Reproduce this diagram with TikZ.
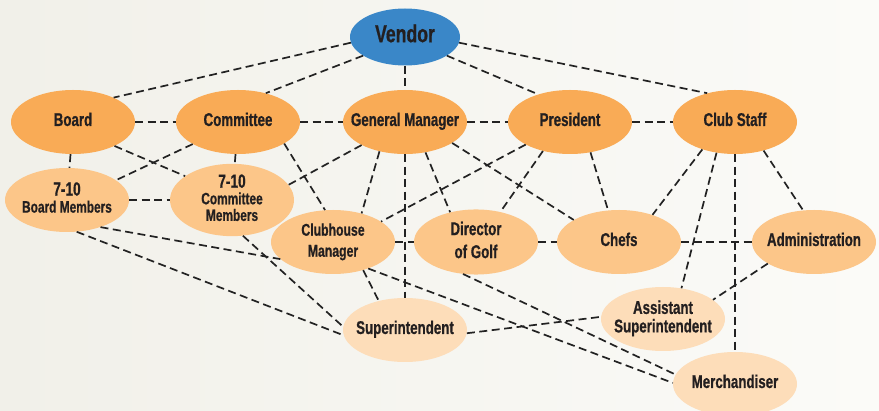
\documentclass[tikz,border=0pt]{standalone}
\usepackage{fontspec}
\usetikzlibrary{shapes.geometric}
\newfontfamily\ovalfont{Liberation Sans}[FakeStretch=0.72, BoldFeatures={FakeBold=0.7}]
\newcommand{\ovalsize}[2]{\ovalfont\bfseries\fontsize{#1}{#2}\selectfont}
\newcommand{\ovaltext}[1]{\makebox[0pt]{\begin{tabular}{@{}c@{}}#1\end{tabular}}}
\newcommand{\bignum}[1]{{\fontsize{19}{17}\selectfont #1}}
\definecolor{vendorblue}{HTML}{3A87C8}
\definecolor{toporange}{HTML}{F9AB56}
\definecolor{midorange}{HTML}{FCC689}
\definecolor{lowpeach}{HTML}{FDDDB9}
\definecolor{txtdark}{HTML}{231F20}
\definecolor{linedark}{HTML}{222222}
\definecolor{bgleft}{HTML}{F1F0E9}
\definecolor{bgright}{HTML}{FBFBF8}
\tikzset{
  oval/.style={ellipse, inner sep=0pt, minimum width=124pt, minimum height=64pt,
    text=txtdark, font=\ovalsize{18.5}{20}},
  toprole/.style={oval, fill=toporange},
  midrole/.style={oval, fill=midorange},
  lowrole/.style={oval, fill=lowpeach},
  link/.style={draw=linedark, line width=1.7pt, dash pattern=on 8pt off 4.5pt},
}
\begin{document}
\begin{tikzpicture}[x=1pt,y=1pt,yscale=-1,xscale=1]
\useasboundingbox (0,0) rectangle (879,411);
%Background
\fill [left color=bgleft, right color=bgright] (0,0) rectangle (879,411);

%Shape: Ellipse, vendor
\node [oval, fill=vendorblue, minimum width=110pt, minimum height=57pt, font=\ovalsize{24.5}{26}] (vendor) at (405,37) {\ovaltext{Vendor}};

%Shape: Ellipse, first row
\node [toprole] (board) at (73,122) {\ovaltext{Board}};
\node [toprole] (committee) at (238,122) {\ovaltext{Committee}};
\node [toprole] (gm) at (405,122) {\ovaltext{General Manager}};
\node [toprole] (president) at (570,122) {\ovaltext{President}};
\node [toprole] (staff) at (735,122) {\ovaltext{Club Staff}};

%Shape: Ellipse, second row
\node [midrole, font=\ovalsize{16.5}{17}] (bm) at (67,200) {\ovaltext{\bignum{7-10}\\Board Members}};
\node [midrole, font=\ovalsize{16.5}{15.5}] (cm) at (232,200) {\ovaltext{\bignum{7-10}\\Committee\\Members}};
\node [midrole, font=\ovalsize{17}{21}] (chm) at (333,242) {\ovaltext{Clubhouse\\Manager}};
\node [midrole, font=\ovalsize{18.5}{23}] (dog) at (476,242) {\ovaltext{Director\\of Golf}};
\node [midrole] (chefs) at (619,242) {\ovaltext{Chefs}};
\node [midrole] (admin) at (814,242) {\ovaltext{Administration}};

%Shape: Ellipse, third row
\node [lowrole] (sup) at (405,330) {\ovaltext{Superintendent}};
\node [lowrole, font=\ovalsize{18.5}{17}] (asst) at (663,319) {\ovaltext{Assistant\\Superintendent}};
\node [lowrole] (merch) at (735,384) {\ovaltext{Merchandiser}};

%Straight Lines, from vendor
\draw [link] (vendor.186) -- (board.31);
\draw [link] (vendor.204) -- (committee.46);
\draw [link] (vendor) -- (gm);
\draw [link] (vendor.336) -- (president.139);
\draw [link] (vendor.354) -- (staff.134);

%Straight Lines, first row
\draw [link] (board) -- (committee);
\draw [link] (committee) -- (gm);
\draw [link] (gm) -- (president);
\draw [link] (president) -- (staff);

%Straight Lines, board and committee
\draw [link] (board) -- (bm);
\draw [link] (board.330) -- (cm.153);
\draw [link] (committee.206) -- (bm.22);
\draw [link] (committee) -- (cm);
\draw [link] (committee.335) -- (chm.104);
\draw [link] (bm) -- (cm);

%Straight Lines, general manager and president
\draw [link] (gm.208) -- (cm.15);
\draw [link] (gm.229) -- (chm.45);
\draw [link] (gm) -- (sup);
\draw [link] (gm.304) -- (dog.131);
\draw [link] (gm.336) -- (chefs.154);
\draw [link] (president.207) -- (chm.23);
\draw [link] (president.227) -- (dog.51);
\draw [link] (president.304) -- (chefs.109);

%Straight Lines, club staff
\draw [link] (staff.220) -- (chefs.39);
\draw [link] (staff.239) -- (asst.59);
\draw [link] (staff) -- (merch);
\draw [link] (staff.315) -- (admin.109);

%Straight Lines, second row
\draw [link] (chm) -- (dog);
\draw [link] (dog) -- (chefs);
\draw [link] (chefs) -- (admin);
\draw [link] (admin.205) -- (asst.21);

%Straight Lines, to the lower row
\draw [link] (bm.321) -- (chm.198);
\draw [link] (bm.287) -- (sup.185);
\draw [link] (cm.287) -- (sup.177);
\draw [link] (chm.317) -- (sup.132);
\draw [link] (chm.323) -- (merch.179);
\draw [link] (dog.248) -- (merch.171);
\draw [link] (sup.357) -- (asst.178);

\end{tikzpicture}
\end{document}
